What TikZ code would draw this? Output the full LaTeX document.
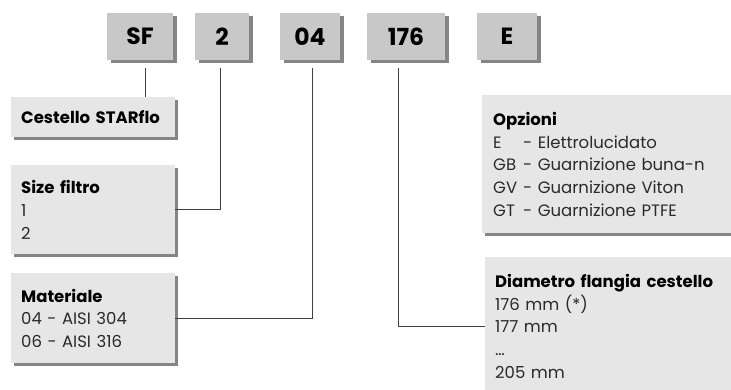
\documentclass[tikz,border=0pt]{standalone}
\usepackage{fontspec}
\setmainfont{Poppins}
\usetikzlibrary{shadows}
\definecolor{topfill}{HTML}{C8C8C8}
\definecolor{lowfill}{HTML}{E6E6E6}
\definecolor{shade}{HTML}{858585}
\definecolor{wirecol}{HTML}{404040}
\definecolor{ink}{HTML}{2A2A2A}
\newcommand\codeitem[2]{\makebox[30pt][l]{#1}- #2}
\newcommand\ttl[1]{{\color{black}\bfseries #1}}
\begin{document}
\begin{tikzpicture}[x=1pt,y=-1pt,
  codebox/.style={fill=topfill, draw=none,
    drop shadow={shadow xshift=4pt, shadow yshift=-3pt, fill=shade, opacity=1},
    minimum height=47pt, inner sep=0pt,
    font=\fontsize{23.5}{23.5}\selectfont\bfseries},
  infobox/.style={fill=lowfill, draw=none,
    drop shadow={shadow xshift=3pt, shadow yshift=-3pt, fill=shade, opacity=1},
    anchor=north west, inner xsep=10pt, inner ysep=0pt, align=left,
    font=\fontsize{16.5}{22.7}\selectfont, text=ink},
  wire/.style={draw=wirecol, line width=0.9pt}]
\useasboundingbox[fill=white] (0,0) rectangle (731,390);

% code boxes
\node[codebox, minimum width=66pt] (sf)   at (140,36.5) {SF};
\node[codebox, minimum width=54pt] (b2)   at (222,36.5) {2};
\node[codebox, minimum width=60pt] (b04)  at (310,36.5) {04};
\node[codebox, minimum width=78pt] (b176) at (406,36.5) {176};
\node[codebox, minimum width=60pt] (bE)   at (507,36.5) {E};

% info boxes
\node[infobox, text width=144pt, minimum height=40pt] (cest) at (11,97)
  {\ttl{Cestello STARflo}};
\node[infobox, text width=144pt, minimum height=89pt] (size) at (11,165)
  {\ttl{Size filtro}\\1\\2};
\node[infobox, text width=144pt, minimum height=90pt] (mat) at (11,273)
  {\ttl{Materiale}\\04 - AISI 304\\06 - AISI 316};
\node[infobox, text width=240pt, minimum height=138pt, inner xsep=11pt] (opz) at (482,95)
  {\ttl{Opzioni}\\\codeitem{E}{Elettrolucidato}\\\codeitem{GB}{Guarnizione buna-n}\\\codeitem{GV}{Guarnizione Viton}\\\codeitem{GT}{Guarnizione PTFE}};
\node[infobox, text width=240pt, minimum height=138pt] (dia) at (485,257)
  {\ttl{Diametro flangia cestello}\\176 mm (*)\\177 mm\\…\\205 mm};

% connectors
\draw[wire] ([xshift=5pt,yshift=-8pt]sf.south) -- ([xshift=5pt]sf.south |- cest.north);
\draw[wire] ([xshift=-2pt,yshift=-8pt]b2.south) |- (size.east);
\draw[wire] ([xshift=2pt,yshift=-8pt]b04.south) |- (mat.east);
\draw[wire] ([xshift=-8pt,yshift=-8pt]b176.south) |- (dia.west);
\end{tikzpicture}
\end{document}
